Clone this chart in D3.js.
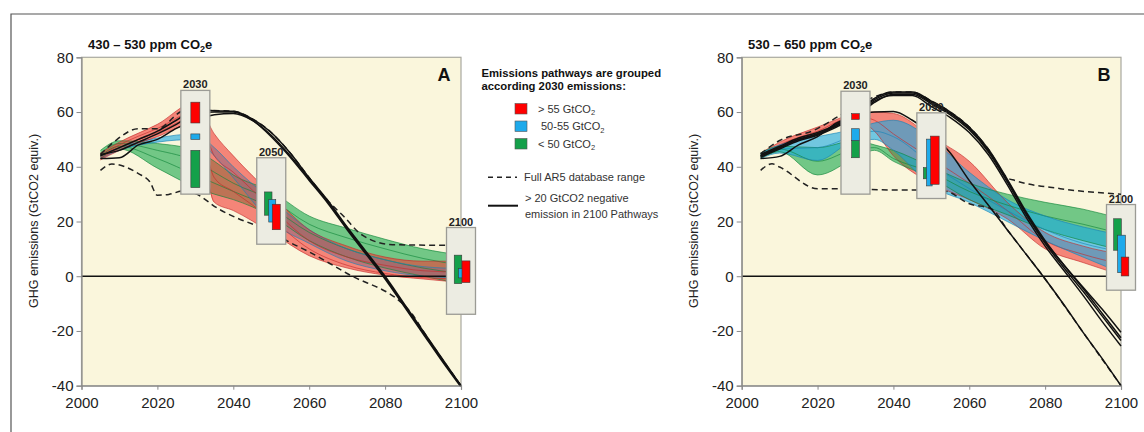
<!DOCTYPE html>
<html>
<head>
<meta charset="utf-8">
<script src="https://cdn.jsdelivr.net/npm/d3@7"></script>
<style>
  body { margin: 0; background: #fff; }
  text { font-family: "Liberation Sans", Arial, sans-serif; }
</style>
</head>
<body>
<svg id="chart" width="1144" height="432"></svg>
<script>
// ---------- data ----------
const years = [2005, 2010, 2020, 2030, 2035, 2040, 2050, 2060, 2070, 2080, 2090, 2100];
const blackYears = [2005, 2010, 2015, 2020, 2025, 2030, 2035, 2040, 2045, 2050, 2055, 2060, 2065, 2070, 2075, 2080, 2085, 2090, 2095, 2100];
const xTicks = [2000, 2020, 2040, 2060, 2080, 2100];
const yTicks = [-40, -20, 0, 20, 40, 60, 80];
const boxYears = [2030, 2050, 2100];

// Panel A: 430-530 ppm CO2e pathways, grouped by 2030 emissions
const redPathsA = [
  [45, 49, 55.5, 63.5, 52, 44, 30, 17, 11, 7, 5.5, 5.5],
  [44, 48, 54, 60, 44, 38, 25, 13, 7, 4, 2, 1.5],
  [43, 47, 52.5, 58, 36, 31, 21, 10, 4, 1, -0.5, -1],
  [42.5, 46, 51, 56, 27, 24, 16, 7.5, 3, 0.4, -1, -2.3]
];
const bluePathsA = [
  [44, 47, 50.5, 52, 47, 40, 28, 17, 10, 6, 3.5, 2.8],
  [43, 46, 49, 50, 44, 36, 20, 12, 5.5, 2, 0, -0.6]
];
const greenPathsA = [
  [46, 49.5, 48.5, 46, 42, 37, 31, 22, 17.5, 13.5, 10, 7.7],
  [45, 48.5, 46, 42, 38, 34, 28, 19, 14, 10, 6.5, 4],
  [44, 47.5, 43, 37, 34, 31, 25, 16, 10, 6, 3, 1],
  [43, 46.5, 39.5, 32.5, 30, 28, 22, 13, 7, 3, 0, -2.7]
];
const blackPathsA = [
  [44, 47, 50, 53, 57, 61, 60.5, 60.3, 57.5, 52.5, 45, 36, 27.5, 18, 9, 0, -10, -20, -30, -40],
  [43, 43.3, 48, 50, 54, 57, 59, 59.5, 57, 51.5, 44, 35.5, 27, 17.5, 8.5, -0.5, -10.5, -20.5, -30.5, -40],
  [44.5, 46, 49, 52, 55.5, 59.5, 60, 60, 57, 51, 43.5, 35, 26.5, 17, 8, -1, -11, -21, -31, -40.5]
];
const dashUpYearsA = [2005, 2009, 2015, 2020, 2026, 2031, 2034, 2040, 2045, 2050, 2055, 2060, 2065, 2069, 2074, 2082, 2100];
const dashUpA = [44.5, 49.6, 53.9, 53.9, 60, 62.4, 60.6, 60.3, 57.5, 52.5, 45, 36, 27.5, 22, 15, 11.5, 11.3];
const dashLowYearsA = [2005, 2008, 2015, 2018, 2020, 2023, 2027, 2030, 2036, 2046, 2050, 2054, 2060, 2067, 2070, 2087, 2090, 2100];
const dashLowA = [38.7, 41, 37.5, 34.5, 29.6, 29.9, 31.2, 30.2, 24.7, 18.6, 16.8, 13.1, 8.9, 3.4, 1.0, -13.6, -20, -40];
const boxLowA = [30, 11.7, -13.9];
const boxHighA = [67.9, 43.3, 17.8];
const redBarLowA = [56, 17, -2.3], redBarHighA = [63.6, 26.3, 5.6];
const blueBarLowA = [50, 19.8, -0.6], blueBarHighA = [52, 28, 2.8];
const greenBarLowA = [32.4, 22.3, -2.7], greenBarHighA = [46, 30.8, 7.7];

// Panel B: 530-650 ppm CO2e pathways
const redPathsB = [
  [45, 49, 54.5, 59.4, 60, 59.5, 51, 42, 27, 16, 11, 8],
  [44, 48, 53, 58.5, 57, 52, 43, 34, 24, 13, 8, 4.5],
  [43, 47, 52, 57.3, 53, 44, 34, 28, 21, 10, 5, 0.5]
];
const bluePathsB = [
  [45, 48, 51, 53.9, 56, 57, 50, 38, 28, 22, 18, 15],
  [44, 46.5, 47, 51.5, 53, 51, 41, 32, 24, 17, 12, 9],
  [43, 45, 42.3, 49.6, 50, 46, 33, 27, 20, 13, 7, 1.3]
];
const greenPathsB = [
  [45, 47.5, 47, 49.6, 48, 46, 40, 34, 30, 27, 24.5, 21],
  [44, 46.5, 42, 46.5, 47, 43, 38, 31, 26, 22, 19, 15.5],
  [43, 45.5, 37, 43.3, 46, 42, 36, 28, 22.5, 17, 13, 9.5]
];
const blackPathsB = [
  [43, 43.8, 48, 51, 56, 58.5, 60, 60.2, 57, 52, 45, 35, 26, 17, 8, -1, -10.5, -20.5, -30, -40],
  [44, 47, 50, 52, 55, 59, 64.5, 67, 67, 63.5, 59.5, 54, 46, 35, 23, 12.5, 4, -4, -12, -20.5],
  [44.5, 47.5, 50.5, 52.5, 55.5, 59.5, 65, 67.3, 67.3, 64, 60, 54.5, 46.5, 35.5, 23.5, 13, 4, -4.5, -13.5, -22.5],
  [43.5, 46.5, 49.5, 51.5, 54.5, 58, 63.5, 66.5, 66.5, 63, 59, 53.5, 45.5, 34.5, 22.5, 12, 3, -5.5, -14.5, -23.5],
  [44, 47, 50, 52, 55, 58.5, 64, 66, 66, 62, 58, 52.5, 44.5, 33.5, 21.5, 11, 2, -7, -16.5, -25.5]
];
const dashUpYearsB = [2005, 2010, 2019, 2026, 2034, 2040, 2045, 2050, 2055, 2060, 2065, 2070, 2072, 2084, 2100];
const dashUpB = [44.8, 49.6, 53.3, 58.8, 65, 67.3, 67.3, 64, 60, 54.5, 46.5, 36, 35, 32, 30];
const dashLowYearsB = [2005, 2008, 2010, 2020, 2026, 2040, 2050, 2054, 2060, 2066, 2070, 2080, 2090, 2100];
const dashLowB = [38.7, 41.1, 39.9, 32, 32, 31.5, 31.5, 31, 26.5, 24.5, 17, -1, -20.5, -40];
const boxLowB = [30, 28.4, -5.1];
const boxHighB = [67.6, 59.7, 26.2];
const redBarLowB = [57.3, 33.6, 0.1], redBarHighB = [59.4, 51.2, 7];
const blueBarLowB = [49.6, 33, 1.3], blueBarHighB = [53.9, 50.1, 15];
const greenBarLowB = [43.3, 35.6, 9.5], greenBarHighB = [49.6, 39.7, 21];

// legend entries
const groupLabels = ["> 55 GtCO", "50-55 GtCO", "< 50 GtCO"];

// ---------- styles ----------
const colors = {
  red:   { fill: "#f03a36", line: "#c42a2a", bar: "#ff0000" },
  blue:  { fill: "#16a8e3", line: "#1784b8", bar: "#1eaaeb" },
  green: { fill: "#17a84c", line: "#12863b", bar: "#14a04a" }
};

const svg = d3.select("#chart");
const y = d3.scaleLinear().domain([-40, 80]).range([385.7, 57.3]);

// outer frame
svg.append("path").attr("d", "M11,432 L11,14 L1144,14")
  .attr("fill", "none").attr("stroke", "#555").attr("stroke-width", 1.2);

const panels = [
  {
    id: "A", left: 81.5, right: 461, title: "430 – 530 ppm CO", titleX: 88, ylabX: 38,
    red: redPathsA, blue: bluePathsA, green: greenPathsA, black: blackPathsA,
    dashUp: [dashUpYearsA, dashUpA], dashLow: [dashLowYearsA, dashLowA],
    boxLow: boxLowA, boxHigh: boxHighA, order: ["green", "blue", "red"],
    bars: { red: [redBarLowA, redBarHighA], blue: [blueBarLowA, blueBarHighA], green: [greenBarLowA, greenBarHighA] },
    offsets: [[0, 0, 0], [-3, 1, 5], [-3, 1, 5]], barW: [[9, 9, 9], [7.5, 7, 8], [7.5, 7, 8]]
  },
  {
    id: "B", left: 741.7, right: 1121, title: "530 – 650 ppm CO", titleX: 748, ylabX: 698,
    red: redPathsB, blue: bluePathsB, green: greenPathsB, black: blackPathsB,
    dashUp: [dashUpYearsB, dashUpB], dashLow: [dashLowYearsB, dashLowB],
    boxLow: boxLowB, boxHigh: boxHighB, order: ["red", "green", "blue"],
    bars: { red: [redBarLowB, redBarHighB], blue: [blueBarLowB, blueBarHighB], green: [greenBarLowB, greenBarHighB] },
    offsets: [[0, 0, 0], [-5.5, -2, 3.5], [-3.5, 0.5, 4]], barW: [[7.6, 7.6, 7.6], [5, 5.6, 8.6], [7.6, 7.6, 7.6]]
  }
];

panels.forEach(p => {
  const x = d3.scaleLinear().domain([2000, 2100]).range([p.left, p.right]);
  const g = svg.append("g");
  const top = y(80), bottom = y(-40);

  g.append("rect")
    .attr("x", p.left).attr("y", top)
    .attr("width", p.right - p.left).attr("height", bottom - top)
    .attr("fill", "#faf6dc").attr("stroke", "#a9a9a0").attr("stroke-width", 1.2);

  const clipId = "clip" + p.id;
  svg.append("clipPath").attr("id", clipId).append("rect")
    .attr("x", p.left).attr("y", top - 2)
    .attr("width", p.right - p.left + 1).attr("height", bottom - top + 3);
  const plot = g.append("g").attr("clip-path", `url(#${clipId})`);

  // shaded ranges and individual pathways per group
  const bandArea = d3.area()
    .x((d, i) => x(years[i])).y0(d => y(d[0])).y1(d => y(d[1]))
    .curve(d3.curveMonotoneX);
  const pathLine = d3.line()
    .x((d, i) => x(years[i])).y(d => y(d))
    .curve(d3.curveMonotoneX);

  p.order.forEach(k => {
    const paths = p[k];
    const env = years.map((yr, i) => d3.extent(paths, s => s[i]));
    plot.append("path").attr("d", bandArea(env))
      .attr("fill", colors[k].fill).attr("fill-opacity", 0.6);
  });
  p.order.forEach(k => {
    p[k].forEach(s => {
      plot.append("path").attr("d", pathLine(s))
        .attr("fill", "none").attr("stroke", colors[k].line)
        .attr("stroke-width", 0.8).attr("stroke-opacity", 0.8);
    });
  });

  // zero line
  plot.append("line")
    .attr("x1", p.left).attr("x2", p.right)
    .attr("y1", y(0)).attr("y2", y(0))
    .attr("stroke", "#111").attr("stroke-width", 1.5);

  // full database range (dashed)
  const dashLine = d3.line().curve(d3.curveMonotoneX);
  [p.dashUp, p.dashLow].forEach(([yrs, vals]) => {
    plot.append("path")
      .attr("d", dashLine(yrs.map((yr, i) => [x(yr), y(vals[i])])))
      .attr("fill", "none").attr("stroke", "#222")
      .attr("stroke-width", 1.5).attr("stroke-dasharray", "6,4");
  });

  // pathways with large negative emissions in 2100
  const blackLine = d3.line()
    .x((d, i) => x(blackYears[i])).y(d => y(d))
    .curve(d3.curveMonotoneX);
  p.black.forEach(s => {
    plot.append("path").attr("d", blackLine(s))
      .attr("fill", "none").attr("stroke", "#111").attr("stroke-width", 1.5);
  });

  // summary boxes for 2030, 2050, 2100
  boxYears.forEach((yr, i) => {
    const cx = x(yr);
    const bTop = y(p.boxHigh[i]), bBot = y(p.boxLow[i]);
    g.append("rect")
      .attr("x", cx - 14.5).attr("y", bTop)
      .attr("width", 29).attr("height", bBot - bTop)
      .attr("fill", "#ecece2").attr("stroke", "#9b9b95").attr("stroke-width", 1.3);
    g.append("text")
      .attr("x", cx).attr("y", bTop - 2)
      .attr("text-anchor", "middle").attr("font-size", 11).attr("font-weight", "bold")
      .attr("fill", "#222").text(yr);
    ["green", "blue", "red"].forEach((k, gi) => {
      const [lo, hi] = p.bars[k];
      const w = p.barW[i][gi];
      g.append("rect")
        .attr("x", cx + p.offsets[i][gi] - w / 2).attr("y", y(hi[i]))
        .attr("width", w).attr("height", y(lo[i]) - y(hi[i]))
        .attr("fill", colors[k].bar).attr("stroke", "#3a3a3a").attr("stroke-width", 0.6);
    });
  });

  // axes
  const yAxis = d3.axisLeft(y).tickValues(yTicks).tickSize(5).tickPadding(3).tickFormat(d => String(d));
  const ya = g.append("g").attr("transform", `translate(${p.left},0)`).call(yAxis);
  const xAxis = d3.axisBottom(x).tickValues(xTicks).tickSize(4).tickPadding(8).tickFormat(d => String(d));
  const xa = g.append("g").attr("transform", `translate(0,${bottom})`).call(xAxis);
  [ya, xa].forEach(a => {
    a.select(".domain").attr("stroke", "#8a8a8a").attr("stroke-width", 1.2);
    a.selectAll(".tick line").attr("stroke", "#8a8a8a");
    a.selectAll(".tick text").attr("font-size", 15).attr("fill", "#222")
      .attr("font-family", '"Liberation Sans", Arial, sans-serif');
  });

  // y-axis title
  g.append("text")
    .attr("transform", `translate(${p.ylabX},221) rotate(-90)`)
    .attr("text-anchor", "middle").attr("font-size", 12.5).attr("fill", "#222")
    .text("GHG emissions (GtCO2 equiv.)");

  // panel title with subscript
  const t = g.append("text").attr("x", p.titleX).attr("y", 49)
    .attr("font-size", 13).attr("font-weight", "bold").attr("fill", "#111");
  t.append("tspan").text(p.title);
  t.append("tspan").attr("font-size", 9).attr("dy", 3).text("2");
  t.append("tspan").attr("dy", -3).text("e");

  // panel letter
  g.append("text").attr("x", p.right - 17).attr("y", 80.7)
    .attr("text-anchor", "middle").attr("font-size", 18).attr("font-weight", "bold")
    .attr("fill", "#111").text(p.id);
});

// ---------- legend ----------
const lg = svg.append("g");
lg.append("text").attr("x", 481.5).attr("y", 77)
  .attr("font-size", 11.3).attr("font-weight", "bold").attr("fill", "#111")
  .text("Emissions pathways are grouped");
lg.append("text").attr("x", 481.5).attr("y", 90)
  .attr("font-size", 11.3).attr("font-weight", "bold").attr("fill", "#111")
  .text("according 2030 emissions:");

const swatchKeys = ["red", "blue", "green"];
const swatchY = [103.5, 121, 138.5];
const labelX = [538, 541, 538];
swatchKeys.forEach((k, i) => {
  lg.append("rect").attr("x", 515).attr("y", swatchY[i])
    .attr("width", 12).attr("height", 10.5)
    .attr("fill", colors[k].bar).attr("stroke", "#555").attr("stroke-width", 0.6);
  const tx = lg.append("text").attr("x", labelX[i]).attr("y", swatchY[i] + 9)
    .attr("font-size", 11).attr("fill", "#333");
  tx.append("tspan").text(groupLabels[i]);
  tx.append("tspan").attr("font-size", 7.5).attr("dy", 2.5).text("2");
});

lg.append("line").attr("x1", 488).attr("x2", 517).attr("y1", 177.3).attr("y2", 177.3)
  .attr("stroke", "#222").attr("stroke-width", 1.5).attr("stroke-dasharray", "5,4");
lg.append("text").attr("x", 524).attr("y", 181)
  .attr("font-size", 11).attr("fill", "#333").text("Full AR5 database range");

lg.append("line").attr("x1", 488).attr("x2", 518).attr("y1", 205.7).attr("y2", 205.7)
  .attr("stroke", "#111").attr("stroke-width", 2);
lg.append("text").attr("x", 525).attr("y", 202)
  .attr("font-size", 11).attr("fill", "#333").text("> 20 GtCO2 negative");
lg.append("text").attr("x", 525).attr("y", 218)
  .attr("font-size", 11).attr("fill", "#333").text("emission in 2100 Pathways");
</script>
</body>
</html>
